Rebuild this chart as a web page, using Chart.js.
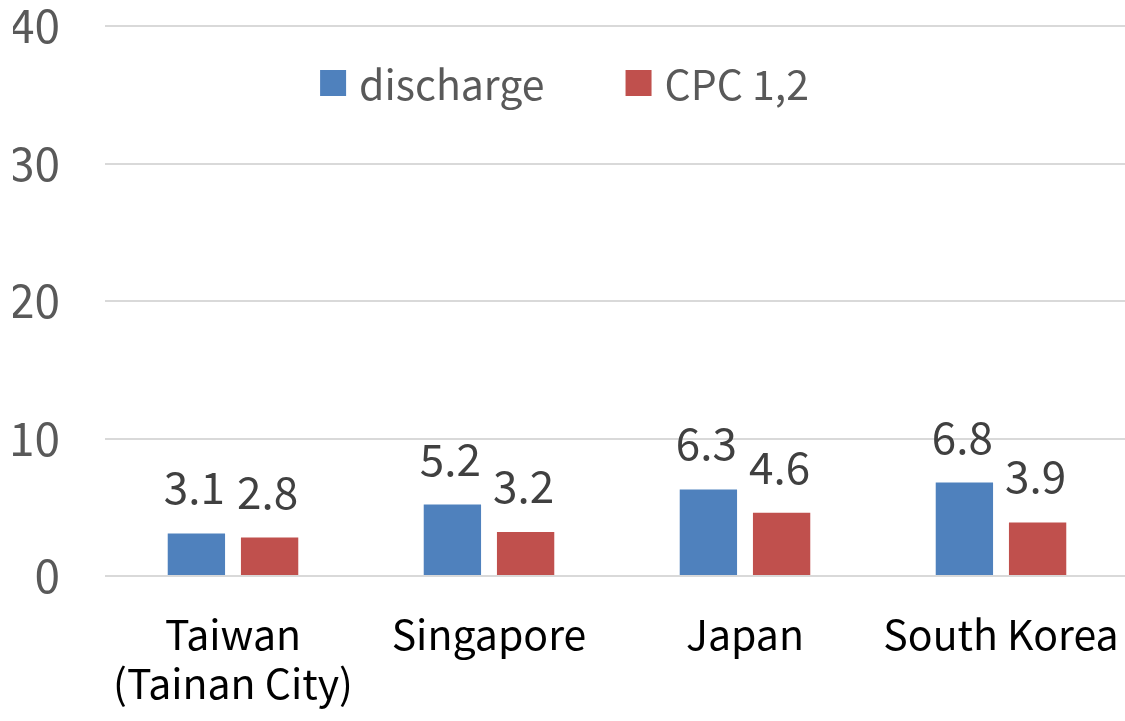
<!DOCTYPE html>
<html>
<head>
<meta charset="utf-8">
<script src="https://cdn.jsdelivr.net/npm/chart.js@4.4.1/dist/chart.umd.min.js"></script>
<style>
  html, body { margin: 0; padding: 0; background: #fff; overflow: hidden; }
  #wrap { width: 1129px; height: 721px; position: relative; }
</style>
</head>
<body>
<div id="wrap"><canvas id="chart"></canvas></div>
<script>
// values
const categories = [["Taiwan", "(Tainan City)"], "Singapore", "Japan", "South Korea"];
const discharge = [3.1, 5.2, 6.3, 6.8];
const cpc12 = [2.8, 3.2, 4.6, 3.9];
const seriesNames = ["discharge", "CPC 1,2"];
const yTicks = [0, 10, 20, 30, 40];

const FONT = "'Noto Sans CJK KR', 'Noto Sans', sans-serif";
const BLUE = "#4F81BD";
const RED = "#C0504D";

// value labels above each bar
const barLabels = {
  id: "barLabels",
  afterDatasetsDraw(chart) {
    const ctx = chart.ctx;
    ctx.save();
    ctx.font = `44px ${FONT}`;
    ctx.fillStyle = "#404040";
    ctx.textAlign = "center";
    ctx.textBaseline = "alphabetic";
    chart.data.datasets.forEach((ds, i) => {
      chart.getDatasetMeta(i).data.forEach((bar, j) => {
        ctx.fillText(String(ds.data[j]), bar.x - 2, bar.y - 29);
      });
    });
    ctx.restore();
  },
};

// legend drawn over the plot, centred on the canvas
const overlayLegend = {
  id: "overlayLegend",
  afterDraw(chart) {
    const ctx = chart.ctx;
    ctx.save();
    ctx.font = `41px ${FONT}`;
    const box = 26, gapText = 13, gapItem = 81;
    const items = chart.data.datasets.map((ds) => ({ text: ds.label, color: ds.backgroundColor }));
    const total = items.reduce((w, it, i) =>
      w + box + gapText + ctx.measureText(it.text).width + (i ? gapItem : 0), 0);
    let x = chart.width / 2 - total / 2;
    const cy = 83;
    items.forEach((it) => {
      ctx.fillStyle = it.color;
      ctx.fillRect(x, cy - box / 2, box, box);
      x += box + gapText;
      ctx.fillStyle = "#595959";
      ctx.textBaseline = "middle";
      ctx.textAlign = "left";
      ctx.fillText(it.text, x, cy + 1);
      x += ctx.measureText(it.text).width + gapItem;
    });
    ctx.restore();
  },
};

new Chart(document.getElementById("chart"), {
  type: "bar",
  data: {
    labels: categories,
    datasets: [
      { label: seriesNames[0], data: discharge, backgroundColor: BLUE },
      { label: seriesNames[1], data: cpc12, backgroundColor: RED },
    ],
  },
  plugins: [barLabels, overlayLegend],
  options: {
    responsive: true,
    maintainAspectRatio: false,
    animation: false,
    layout: { padding: { top: 26, left: 13, right: 0, bottom: 0 } },
    categoryPercentage: 0.572,
    barPercentage: 0.783,
    plugins: { legend: { display: false }, tooltip: { enabled: false } },
    scales: {
      x: {
        grid: { display: false, drawTicks: false },
        border: { display: false },
        afterFit(scale) { scale.paddingLeft = 0; scale.paddingRight = 0; scale.height = 145; },
        ticks: {
          color: "#000000",
          padding: 34,
          maxRotation: 0,
          autoSkip: false,
          font: { family: FONT, size: 41, lineHeight: 1.2 },
        },
      },
      y: {
        min: yTicks[0],
        max: yTicks[yTicks.length - 1],
        afterBuildTicks(scale) { scale.ticks = yTicks.map((v) => ({ value: v })); },
        afterFit(scale) { scale.paddingTop = 0; scale.paddingBottom = 0; scale.width = 92; },
        grid: { color: "#D9D9D9", lineWidth: 2, drawTicks: false },
        border: { display: false },
        ticks: {
          color: "#595959",
          padding: 45,
          font: { family: FONT, size: 46, lineHeight: 1 },
        },
      },
    },
  },
});
</script>
</body>
</html>
